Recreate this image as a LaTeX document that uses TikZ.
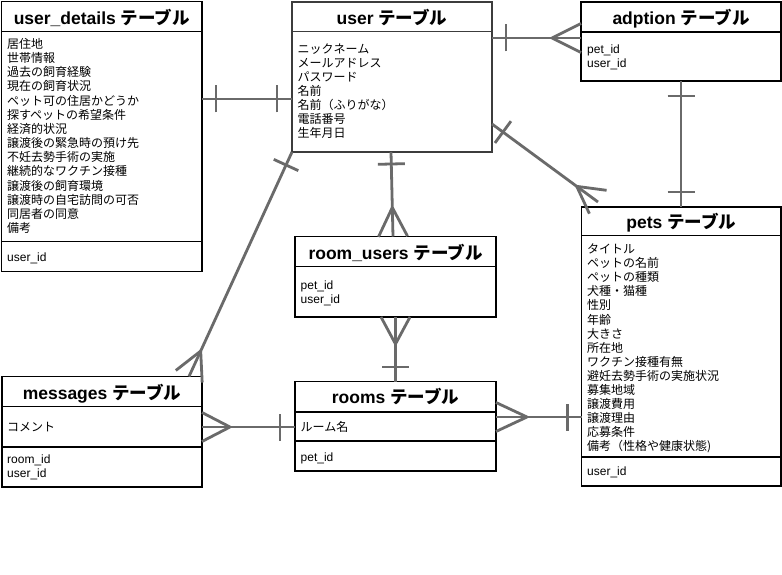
\documentclass[tikz,border=0pt]{standalone}
\usepackage{fontspec}
\setmainfont{Liberation Sans}
\newfontfamily\jp{Noto Sans CJK JP}
\usetikzlibrary{decorations.markings}
\definecolor{cgray}{HTML}{6A6A6A}
\definecolor{ubox}{HTML}{3C3C3C}
\begin{document}
\begin{tikzpicture}[x=1pt,y=-1pt,
  tbl/.style={draw=black,line width=1.8pt,rectangle,inner sep=0pt,outer sep=0pt,anchor=north west},
  div/.style={draw=black,line width=1.8pt},
  ttl/.style={anchor=base,inner sep=0pt,font=\fontsize{17.5}{20}\selectfont\bfseries},
  jt/.style={anchor=base west,inner sep=0pt,font=\fontsize{12}{14}\selectfont\jp},
  lt/.style={anchor=base west,inner sep=0pt,font=\fontsize{12}{14}\selectfont},
  conn/.style={draw=cgray,line width=2.8pt},
  barat/.style={postaction={decorate,decoration={markings,mark=at position #1 with {\draw[conn] (0pt,-13.5pt)--(0pt,13.5pt);}}}},
  crowend/.style={postaction={decorate,decoration={markings,mark=at position -#1 with {\draw[conn] (0pt,0pt)--(#1,14.5pt) (0pt,0pt)--(#1,-14.5pt);}}}},
  crowstart/.style={postaction={decorate,decoration={markings,mark=at position #1 with {\draw[conn] (0pt,0pt)--(-#1,14.5pt) (0pt,0pt)--(-#1,-14.5pt);}}}}
]
\fill[white] (0,0) rectangle (782,575);
\useasboundingbox (0,0) rectangle (782,575);

% ---------- connectors ----------
\coordinate (c4end) at (598,202);
\coordinate (c6end) at (189,376.5);

% ---------- tables ----------
% user_details
\node[tbl,minimum width=200.5pt,minimum height=270pt] (ud) at (1.5,1.5) {};
\draw[div] (ud.west |- 0,31.5) -- (ud.east |- 0,31.5) (ud.west |- 0,241.5) -- (ud.east |- 0,241.5);
\node[ttl] (udT) at (101.75,24.5) {user\_details {\jp テーブル}};
\foreach \t [count=\i from 0] in {居住地,世帯情報,過去の飼育経験,現在の飼育状況,ペット可の住居かどうか,探すペットの希望条件,経済的状況,譲渡後の緊急時の預け先,不妊去勢手術の実施,継続的なワクチン接種,譲渡後の飼育環境,譲渡時の自宅訪問の可否,同居者の同意,備考}
  \node[jt] (ud\i) at (7,48.5+14.15*\i) {\t};
\node[lt] (udk) at (7,261) {user\_id};

% user
\node[tbl,draw=ubox,minimum width=200pt,minimum height=150pt] (user) at (292,2) {};
\draw[div,draw=ubox] (user.west |- 0,31.5) -- (user.east |- 0,31.5);
\node[ttl] (userT) at (392,24.5) {user {\jp テーブル}};
\foreach \t [count=\i from 0] in {ニックネーム,メールアドレス,パスワード,名前,名前（ふりがな）,電話番号,生年月日}
  \node[jt] (us\i) at (297.5,54+13.95*\i) {\t};

% adption
\node[tbl,minimum width=200pt,minimum height=79pt] (ad) at (581,2) {};
\draw[div] (ad.west |- 0,32) -- (ad.east |- 0,32);
\node[ttl] (adT) at (681,24.5) {adption {\jp テーブル}};
\node[lt] (ad1) at (587,54) {pet\_id};
\node[lt] (ad2) at (587,68) {user\_id};

% pets
\node[tbl,minimum width=199.5pt,minimum height=279pt] (pets) at (581.5,207) {};
\draw[div] (pets.west |- 0,235.5) -- (pets.east |- 0,235.5) (pets.west |- 0,457) -- (pets.east |- 0,457);
\node[ttl] (petsT) at (681.25,228) {pets {\jp テーブル}};
\foreach \t [count=\i from 0] in {タイトル,ペットの名前,ペットの種類,犬種・猫種,性別,年齢,大きさ,所在地,ワクチン接種有無,避妊去勢手術の実施状況,募集地域,譲渡費用,譲渡理由,応募条件,備考（性格や健康状態)}
  \node[jt] (pe\i) at (587,253.5+14.1*\i) {\t};
\node[lt] (pek) at (587,475.5) {user\_id};

% room_users
\node[tbl,minimum width=201pt,minimum height=80.5pt] (ru) at (295,236.5) {};
\draw[div] (ru.west |- 0,266.5) -- (ru.east |- 0,266.5);
\node[ttl] (ruT) at (395.5,259) {room\_users {\jp テーブル}};
\node[lt] (ru1) at (300.5,289.5) {pet\_id};
\node[lt] (ru2) at (300.5,303.5) {user\_id};

% rooms
\node[tbl,minimum width=201pt,minimum height=89.5pt] (rooms) at (295,381.5) {};
\draw[div] (rooms.west |- 0,412) -- (rooms.east |- 0,412) (rooms.west |- 0,441) -- (rooms.east |- 0,441);
\node[ttl] (roomsT) at (395.5,403) {rooms {\jp テーブル}};
\node[jt] (ro1) at (300.5,431) {ルーム名};
\node[lt] (ro2) at (300.5,461) {pet\_id};

% messages
\node[tbl,minimum width=200pt,minimum height=110.5pt] (msg) at (2,376.5) {};
\draw[div] (msg.west |- 0,406.5) -- (msg.east |- 0,406.5) (msg.west |- 0,447) -- (msg.east |- 0,447);
\node[ttl] (msgT) at (102,399) {messages {\jp テーブル}};
\node[jt] (ms1) at (7,431) {コメント};
\node[lt] (ms2) at (7,463.5) {room\_id};
\node[lt] (ms3) at (7,477.5) {user\_id};

% ---------- relations ----------
\draw[conn,barat=14pt,barat=-15pt] (ud.east |- 0,99) -- (user.west |- 0,99);
\draw[conn,barat=14pt,crowend=29pt] (user.east |- 0,38) -- (ad.west |- 0,38);
\draw[conn,barat=15pt,barat=-15pt] (681,0 |- ad.south) -- (681,0 |- pets.north);
\draw[conn,barat=13.6pt,crowend=26.4pt] (user.east |- 0,124) -- (c4end);
\draw[conn,barat=12pt,crowend=29pt] (391,0 |- user.south) -- (393,0 |- ru.north);
\draw[conn,barat=14.3pt,crowend=28pt] (user.south west) -- (c6end);
\draw[conn,crowstart=27pt,barat=-14.5pt] (395.5,0 |- ru.south) -- (395.5,0 |- rooms.north);
\draw[conn,crowstart=28pt,barat=-15pt] (msg.east |- 0,427) -- (rooms.west |- 0,427);
\draw[conn,crowstart=31pt,barat=-14pt] (rooms.east |- 0,417) -- (pets.west |- 0,417);
\end{tikzpicture}
\end{document}
